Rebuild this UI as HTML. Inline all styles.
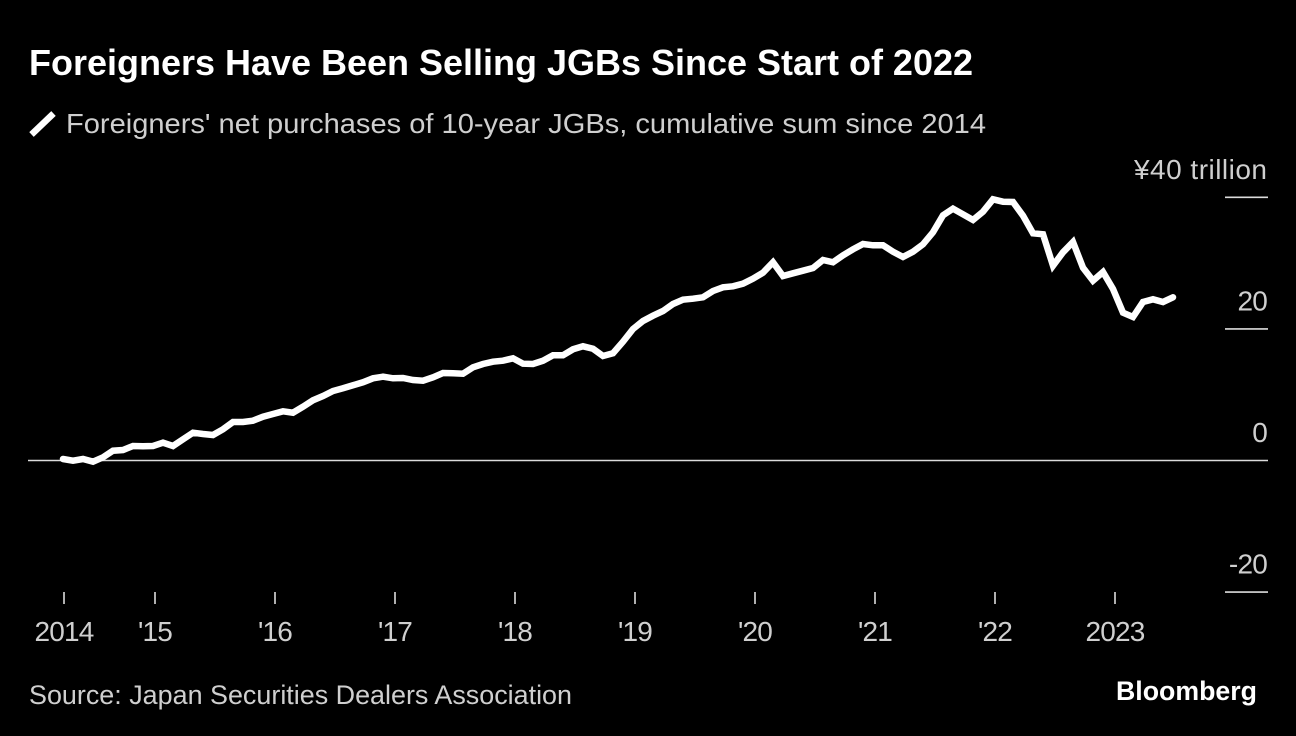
<!DOCTYPE html>
<html lang="en">
<head>
<meta charset="utf-8">
<title>Foreigners Have Been Selling JGBs Since Start of 2022</title>
<style>
  html, body { margin: 0; padding: 0; background: #000; }
  svg { display: block; }
  text { font-family: "Liberation Sans", sans-serif; fill: #cfcfcf; }
</style>
</head>
<body>
<svg id="chart" xmlns="http://www.w3.org/2000/svg" width="1296" height="736" viewBox="0 0 1296 736">
  <rect x="0" y="0" width="1296" height="736" fill="#000"/>
  <text x="29" y="75" font-size="36" font-weight="700" style="fill:#fff" textLength="944" lengthAdjust="spacingAndGlyphs">Foreigners Have Been Selling JGBs Since Start of 2022</text>
  <line x1="31.5" y1="134.5" x2="53.5" y2="113.5" stroke="#fff" stroke-width="6.5"/>
  <text x="66" y="133" font-size="28" textLength="920" lengthAdjust="spacingAndGlyphs">Foreigners' net purchases of 10-year JGBs, cumulative sum since 2014</text>
  <g id="y-axis"></g>
  <g id="x-axis"></g>
  <g id="series"></g>
  <text x="29" y="704" font-size="27" textLength="543" lengthAdjust="spacingAndGlyphs">Source: Japan Securities Dealers Association</text>
  <text x="1116" y="700" font-size="27" font-weight="700" style="fill:#fff" textLength="141" lengthAdjust="spacingAndGlyphs">Bloomberg</text>
</svg>
<script>
// Cumulative net purchases, trillion yen, one value per month
const purchases = [
  0.23,-0.03,0.23,-0.18,0.49,1.49,1.60,2.20,2.16,2.20,
  2.71,2.20,3.22,4.22,4.03,3.88,4.74,5.85,5.85,6.05,
  6.66,7.07,7.48,7.26,8.18,9.15,9.80,10.56,10.97,11.43,
  11.88,12.49,12.74,12.49,12.54,12.23,12.13,12.64,13.30,13.25,
  13.19,14.16,14.67,15.02,15.17,15.53,14.71,14.67,15.17,15.99,
  15.99,16.90,17.36,16.99,15.88,16.29,18.05,19.98,21.20,22.01,
  22.72,23.78,24.44,24.59,24.80,25.76,26.32,26.47,26.87,27.63,
  28.54,30.12,28.04,28.45,28.84,29.26,30.47,30.12,31.19,32.10,
  32.90,32.71,32.71,31.73,30.93,31.73,32.86,34.68,37.26,38.27,
  37.42,36.55,37.81,39.70,39.33,39.29,37.20,34.53,34.38,29.60,
  31.64,33.21,29.30,27.33,28.65,26.06,22.46,21.81,24.09,24.50,
  24.09,24.80
];
const firstMonth = 2.8; // months since Jan 2014
const xTickMonths = [2.9, 12, 24, 36, 48, 60, 72, 84, 96, 108];
const xTickLabels = ["2014", "'15", "'16", "'17", "'18", "'19", "'20", "'21", "'22", "2023"];
const yTickValues = [40, 20, 0, -20];
const yTickLabels = ["¥40 trillion", "20", "0", "-20"];

const NS = 'http://www.w3.org/2000/svg';
function xScale(month) { return 35 + month * 10; }
function yScale(value) { return 460.5 - value * 6.58; }
function make(tag, attrs, parent) {
  const el = document.createElementNS(NS, tag);
  for (const k in attrs) el.setAttribute(k, attrs[k]);
  parent.appendChild(el);
  return el;
}

const yAxis = document.getElementById('y-axis');
yTickValues.forEach(function (v, i) {
  const y = yScale(v);
  const rule = make('line', { x1: v === 0 ? 28 : 1225, x2: 1268, y1: y, y2: y, stroke: '#dcdcdc', 'stroke-width': 1.6 }, yAxis);
  
  
  const label = make('text', { x: i === 0 ? 1134 : 1267, y: y - 18.5, 'font-size': 28, 'text-anchor': i === 0 ? 'start' : 'end', 'letter-spacing': i === 0 ? 0 : -0.8 }, yAxis);
  if (i === 0) label.setAttribute('textLength', 133);
  label.textContent = yTickLabels[i];
  
  
});

const xAxis = document.getElementById('x-axis');
xTickMonths.forEach(function (m, i) {
  const x = xScale(m);
  const tick = make('line', { x1: x, x2: x, y1: 592, y2: 604, stroke: '#dcdcdc', 'stroke-width': 1.6 }, xAxis);
  
  
  const label = make('text', { x: x, y: 641, 'font-size': 28, 'text-anchor': 'middle', 'letter-spacing': -0.8 }, xAxis);
  label.textContent = xTickLabels[i];
  
  
});

const points = purchases.map(function (v, i) {
  return xScale(firstMonth + i).toFixed(1) + ',' + yScale(v).toFixed(1);
});
const seriesLine = make('polyline', {
  points: points.join(' '),
  fill: 'none',
  stroke: '#fff',
  'stroke-width': 6.5,
  'stroke-linecap': 'round',
  'stroke-linejoin': 'miter'
}, document.getElementById('series'));


</script>
</body>
</html>
